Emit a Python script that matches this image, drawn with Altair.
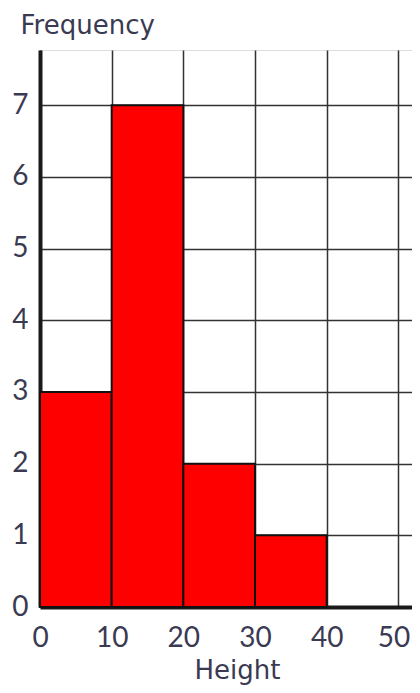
import altair as alt
import pandas as pd

bin_start = [0, 10, 20, 30]
bin_end = [10, 20, 30, 40]
frequency = [3, 7, 2, 1]
x_ticks = [0, 10, 20, 30, 40, 50]
y_ticks = [0, 1, 2, 3, 4, 5, 6, 7]

df = pd.DataFrame({"start": bin_start, "end": bin_end, "freq": frequency})

LFONT = "Lato"
TFONT = "DejaVu Sans"
TXT = "#3a3a52"

bars = alt.Chart(df).mark_rect(color="#ff0000", stroke="#111111", strokeWidth=2).encode(
    x=alt.X("start:Q",
            scale=alt.Scale(domain=[0, 51.9], nice=False, zero=False),
            axis=alt.Axis(values=x_ticks, title="Height", grid=True, gridColor="#333333",
                          gridWidth=1.5, ticks=False, domainColor="#1a1a1a", domainWidth=4,
                          labelFontSize=28, labelFont=LFONT, labelColor=TXT, labelPadding=17,
                          labelFlush=False, labelOverlap=False,
                          labelOffset=alt.expr("datum.value == 50 ? -5 : 0"),
                          titleFontSize=26, titleFont=TFONT, titleColor=TXT, titleFontWeight="normal",
                          titlePadding=5, titleX=197)),
    x2="end:Q",
    y=alt.Y("freq:Q",
            scale=alt.Scale(domain=[0, 7.77], nice=False),
            axis=alt.Axis(values=y_ticks, title="Frequency", grid=True, gridColor="#333333",
                          gridWidth=1.5, ticks=False, domainColor="#1a1a1a", domainWidth=4,
                          labelFontSize=28, labelFont=LFONT, labelColor=TXT, labelPadding=12,
                          labelFlush=False, labelOverlap=False,
                          titleFontSize=26, titleFont=TFONT, titleColor=TXT, titleFontWeight="normal",
                          titleAngle=0, titleAlign="left", titleBaseline="middle",
                          titleX=-20, titleY=-25)),
    y2=alt.datum(0),
)

chart = bars.properties(
    width=372, height=557,
    autosize=alt.AutoSizeParams(type="none"),
    padding={"left": 32, "top": 42, "right": 0, "bottom": 78},
).configure_view(stroke=None).configure(background="white")

chart.save("out.html", embed_options={"renderer": "svg", "actions": False})
